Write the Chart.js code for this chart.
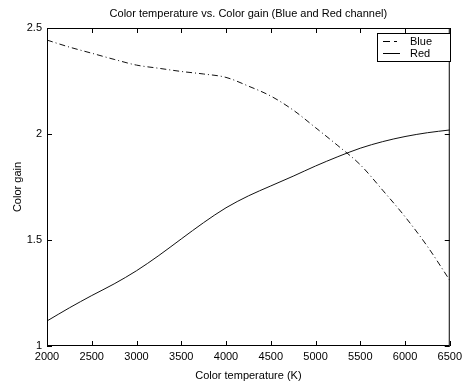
<!DOCTYPE html>
<html>
<head>
<meta charset="utf-8">
<script src="https://cdn.jsdelivr.net/npm/chart.js@4/dist/chart.umd.min.js"></script>
<style>
  body { margin: 0; background: #fff; }
  #wrap { width: 466px; height: 383px; }
</style>
</head>
<body>
<div id="wrap"><canvas id="gain" width="466" height="383"></canvas></div>
<script>
// values
const temps = [2000, 2250, 2500, 2750, 3000, 3250, 3500, 3750, 4000, 4250,
  4500, 4750, 5000, 5250, 5500, 5750, 6000, 6250, 6500];
const blueGain = [2.443, 2.41, 2.381, 2.352, 2.325, 2.31, 2.295, 2.283, 2.267, 2.226,
  2.179, 2.113, 2.03, 1.945, 1.855, 1.735, 1.61, 1.47, 1.31];
const redGain = [1.118, 1.18, 1.238, 1.293, 1.355, 1.427, 1.505, 1.582, 1.652, 1.708,
  1.755, 1.801, 1.849, 1.893, 1.933, 1.964, 1.988, 2.006, 2.019];
const xTicks = [2000, 2500, 3000, 3500, 4000, 4500, 5000, 5500, 6000, 6500];
const yTicks = [1, 1.5, 2, 2.5];
const chartTitle = 'Color temperature vs. Color gain (Blue and Red channel)';

const FONT = 'Liberation Sans, Arial, sans-serif';

function toPoints(xs, ys) {
  return xs.map((x, i) => ({ x, y: ys[i] }));
}

// matlab style frame: box round the plot with ticks pointing inwards
const framePlugin = {
  id: 'frame',
  afterDatasetsDraw(chart) {
    const { ctx, chartArea: a, scales } = chart;
    ctx.save();
    ctx.strokeStyle = '#000';
    ctx.lineWidth = 1;
    ctx.strokeRect(a.left + 0.5, a.top + 0.5, a.right - a.left - 1, a.bottom - a.top - 1);
    ctx.beginPath();
    xTicks.forEach((t) => {
      const px = Math.round(scales.x.getPixelForValue(t)) + 0.5;
      ctx.moveTo(px, a.bottom); ctx.lineTo(px, a.bottom - 5);
      ctx.moveTo(px, a.top); ctx.lineTo(px, a.top + 5);
    });
    yTicks.forEach((t) => {
      const py = Math.round(scales.y.getPixelForValue(t)) + 0.5;
      ctx.moveTo(a.left, py); ctx.lineTo(a.left + 5, py);
      ctx.moveTo(a.right, py); ctx.lineTo(a.right - 5, py);
    });
    ctx.stroke();

    // title centred over the plot area
    ctx.fillStyle = '#000';
    ctx.font = '11px ' + FONT;
    ctx.textAlign = 'center';
    ctx.textBaseline = 'middle';
    ctx.fillText(chartTitle, (a.left + a.right) / 2, 14);

    // legend box in the upper right corner
    const bx = 377, by = 33, bw = 73, bh = 28;
    ctx.fillStyle = '#fff';
    ctx.fillRect(bx, by, bw, bh);
    ctx.strokeRect(bx + 0.5, by + 0.5, bw, bh);
    ctx.textAlign = 'left';
    chart.data.datasets.forEach((ds, i) => {
      const ly = by + 8 + i * 12 + 0.5;
      ctx.beginPath();
      ctx.setLineDash(ds.legendDash || []);
      ctx.moveTo(bx + 6, ly); ctx.lineTo(bx + 23, ly);
      ctx.stroke();
      ctx.setLineDash([]);
      ctx.fillStyle = '#000';
      ctx.fillText(ds.label, bx + 33, ly);
    });
    ctx.restore();
  },
};

const ctx = document.getElementById('gain').getContext('2d');
new Chart(ctx, {
  type: 'line',
  data: {
    datasets: [
      {
        label: 'Blue',
        data: toPoints(temps, blueGain),
        borderColor: '#111',
        borderWidth: 1,
        borderDash: [6, 3, 1, 3],
        legendDash: [7, 4, 3, 3],
        pointRadius: 0,
        cubicInterpolationMode: 'monotone',
      },
      {
        label: 'Red',
        data: toPoints(temps, redGain),
        borderColor: '#111',
        borderWidth: 1,
        pointRadius: 0,
        cubicInterpolationMode: 'monotone',
      },
    ],
  },
  options: {
    responsive: false,
    animation: false,
    layout: { padding: { top: 28, right: 13, bottom: 0, left: 11 } },
    plugins: {
      legend: { display: false },
      tooltip: { enabled: false },
      title: { display: false },
    },
    scales: {
      x: {
        type: 'linear',
        min: 2000,
        max: 6500,
        afterFit(scale) { scale.height = 37; },
        afterBuildTicks(scale) { scale.ticks = xTicks.map((v) => ({ value: v })); },
        grid: { display: false, drawTicks: false },
        border: { display: false },
        ticks: {
          color: '#000',
          padding: 4,
          maxRotation: 0,
          autoSkip: false,
          font: { family: FONT, size: 11 },
          callback: (v) => String(v),
        },
        title: {
          display: true,
          text: 'Color temperature (K)',
          color: '#000',
          padding: { top: 2, bottom: 0 },
          font: { family: FONT, size: 11 },
        },
      },
      y: {
        type: 'linear',
        min: 1,
        max: 2.5,
        afterFit(scale) { scale.width = 36; },
        afterBuildTicks(scale) { scale.ticks = yTicks.map((v) => ({ value: v })); },
        grid: { display: false, drawTicks: false },
        border: { display: false },
        ticks: {
          color: '#000',
          padding: 5,
          font: { family: FONT, size: 11 },
          callback: (v) => String(v),
        },
        title: {
          display: true,
          text: 'Color gain',
          color: '#000',
          padding: { top: 0, bottom: 0 },
          font: { family: FONT, size: 11 },
        },
      },
    },
  },
  plugins: [framePlugin],
});
</script>
</body>
</html>
